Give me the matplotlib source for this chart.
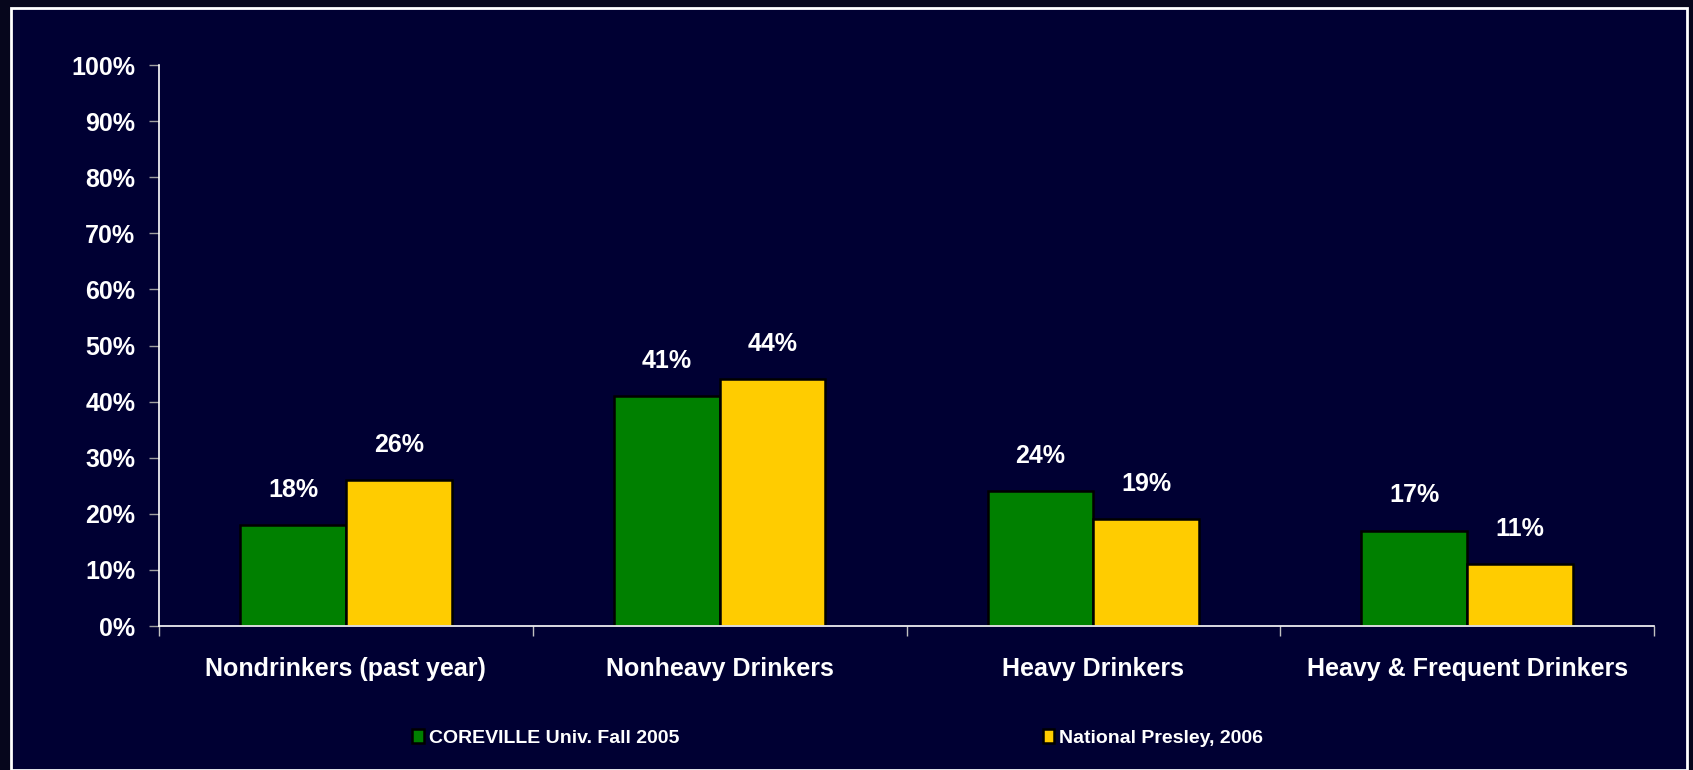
import matplotlib
matplotlib.use("Agg")
import matplotlib.pyplot as plt
from matplotlib.patches import Rectangle, Patch
import numpy as np

categories = ["Nondrinkers (past year)", "Nonheavy Drinkers", "Heavy Drinkers", "Heavy & Frequent Drinkers"]
series_names = ["COREVILLE Univ. Fall 2005", "National Presley, 2006"]
coreville = [18, 41, 24, 17]
national = [26, 44, 19, 11]
ytick_vals = list(range(0, 101, 10))
ytick_labels = [f"{v}%" for v in ytick_vals]

GREEN = "#008000"
YELLOW = "#FFCC00"
BG = "#000033"

plt.rcParams['font.family'] = ['Liberation Sans', 'DejaVu Sans']
plt.rcParams['font.weight'] = 'bold'

fig = plt.figure(figsize=(16.93, 7.70), dpi=100)
fig.patch.set_facecolor("#06061c")
frame = Rectangle((11/1693, 0.0), 1676/1693, 1 - 8/770, transform=fig.transFigure,
                  facecolor=BG, edgecolor="white", linewidth=2, zorder=-10)
fig.patches.append(frame)

ax = fig.add_axes([159/1693, 1 - 626/770, (1654 - 159)/1693, (626 - 65)/770])
ax.set_facecolor("none")
ax.set_zorder(1)

x = np.arange(len(categories))
w = 0.283
b1 = ax.bar(x - w/2, coreville, w, color=GREEN, edgecolor="black", linewidth=1.8, label=series_names[0])
b2 = ax.bar(x + w/2, national, w, color=YELLOW, edgecolor="black", linewidth=1.8, label=series_names[1])

for bars, vals in ((b1, coreville), (b2, national)):
    for r, v in zip(bars, vals):
        ax.annotate(f"{v}%", (r.get_x() + r.get_width()/2, v), xytext=(0, 25.5),
                    textcoords="offset points", ha="center", va="center",
                    color="white", fontsize=18, fontweight="bold")

ax.set_xlim(-0.5, len(categories) - 0.5)
ax.set_ylim(0, 100)
ax.set_yticks(ytick_vals)
ax.set_yticklabels(ytick_labels)
ax.set_xticks(np.arange(len(categories) + 1) - 0.5)
ax.set_xticklabels([])
ax.set_xticks(x, minor=True)
ax.set_xticklabels(categories, minor=True)
ax.tick_params(axis="x", which="minor", length=0, pad=22, labelsize=18, labelcolor="white")
ax.tick_params(axis="x", which="major", length=7, color="#c0c0c0", width=1)
ax.tick_params(axis="y", length=7, color="#a0a0a0", width=1, pad=10, labelsize=18, labelcolor="white")
for lab in ax.get_yticklabels() + ax.get_xticklabels(minor=True):
    lab.set_fontweight("bold")

for s in ("top", "right"):
    ax.spines[s].set_visible(False)
for s in ("left", "bottom"):
    ax.spines[s].set_color("white")
    ax.spines[s].set_linewidth(1.2)

handles = [Patch(facecolor=GREEN, edgecolor="black", linewidth=1.8),
           Patch(facecolor=YELLOW, edgecolor="black", linewidth=1.8)]
leg = fig.legend(handles, series_names, loc="center left", bbox_to_anchor=(412/1693, 1 - 738/770),
                 ncol=2, frameon=False, handlelength=0.6, handleheight=0.7, handletextpad=0.25,
                 columnspacing=18.7, borderpad=0, borderaxespad=0,
                 prop={"family": ["Liberation Sans"], "weight": "bold", "size": 14})
for t in leg.get_texts():
    t.set_color("white")

fig.savefig("out.png", dpi=100, facecolor=fig.get_facecolor())
